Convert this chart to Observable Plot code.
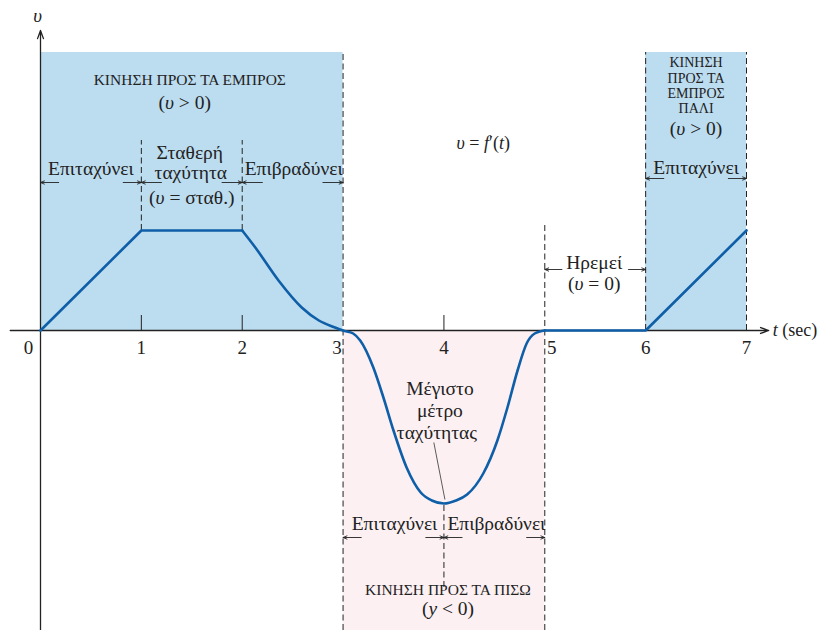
<!DOCTYPE html>
<html>
<head>
<meta charset="utf-8">
<script src="https://cdn.jsdelivr.net/npm/d3@7"></script>
<script src="https://cdn.jsdelivr.net/npm/@observablehq/plot@0.6"></script>
<style>
  body { margin: 0; background: #fff; }
  #chart svg { display: block; }
  #chart svg, #chart svg text { font-family: "Liberation Serif", "Times New Roman", serif !important; }
</style>
</head>
<body>
<div id="chart"></div>
<script>
// Velocity υ = f'(t) sampled along the motion (t in sec)
const times = [0, 1, 2, 2.13, 2.36, 2.59, 2.76, 2.92, 3,
  3.1, 3.17, 3.3, 3.4, 3.5, 3.63, 3.77, 3.88, 4, 4.12, 4.23, 4.39, 4.53, 4.63, 4.73, 4.82, 4.9, 5,
  6, 7];
const velocities = [0, 1, 1, 0.83, 0.5, 0.23, 0.1, 0.03, 0,
  -0.03, -0.1, -0.37, -0.67, -1.0, -1.37, -1.62, -1.70, -1.73, -1.70, -1.64, -1.43, -1.1, -0.77, -0.4, -0.13, -0.03, 0,
  0, 1];

// Phases of motion: forward (υ > 0) and backward (υ < 0)
const phaseStart = [0, 3, 6];
const phaseEnd = [3, 5, 7];
const phaseLow = [0, -3, 0];
const phaseHigh = [2.78, 0, 2.78];
const phaseKind = ["forward", "backward", "forward"];

// Dashed guide lines
const guideT = [1, 2, 3, 4, 5, 6, 7];
const guideTop = [1.9, 1.9, 2.78, -1.73, 1.05, 2.78, 2.78];
const guideBottom = [1, 1, -3, -2.57, -3, 0, 0];

// Time axis
const tickValues = [0, 1, 2, 3, 4, 5, 6, 7];
const tickLabels = ["0", "1", "2", "3", "4", "5", "6", "7"];
const tickMarks = [1, 2, 4];

// Interval arrows (from → to) at level υ
const arrowFrom = [0.18, 0.82, 1.2, 1.8, 2.2, 2.8, 5.17, 5.83, 6.18, 6.82, 3.18, 3.82, 4.18, 4.82];
const arrowTo   = [0,    1,    1,   2,   2,   3,   5,    6,    6,    7,    3,    4,    4,    5];
const arrowV    = [1.48, 1.48, 1.48, 1.48, 1.48, 1.48, 0.61, 0.61, 1.52, 1.52, -2.07, -2.07, -2.07, -2.07];

const samples = times.map((t, i) => ({t, v: velocities[i]}));
const linearPart = samples.map(d => ({...d, seg: d.t <= 2 ? "a" : "b"}))
  .filter(d => d.t <= 2 || d.t >= 5);
const smoothPart = samples.filter(d => d.t >= 2 && d.t <= 5);

const phases = phaseStart.map((s, i) => ({x1: s, x2: phaseEnd[i], y1: phaseLow[i], y2: phaseHigh[i], kind: phaseKind[i]}));
const guides = guideT.map((t, i) => ({t, y1: guideBottom[i], y2: guideTop[i]}));
const arrows = arrowFrom.map((f, i) => ({x1: f, x2: arrowTo[i], y: arrowV[i]}));
const ticks = tickValues.map((t, i) => ({t, label: tickLabels[i]}));

const big = 19.5, small = 15.5, stack = 14;
const labels = [
  {t: 1.48, v: 2.5, text: "ΚΙΝΗΣΗ ΠΡΟΣ ΤΑ ΕΜΠΡΟΣ", size: small},
  {t: 1.43, v: 2.28, text: "(υ > 0)", size: big},
  {t: 0.5, v: 1.62, text: "Επιταχύνει", size: big},
  {t: 1.48, v: 1.78, text: "Σταθερή", size: big},
  {t: 1.49, v: 1.58, text: "ταχύτητα", size: big},
  {t: 1.5, v: 1.33, text: "(υ = σταθ.)", size: big},
  {t: 2.51, v: 1.62, text: "Επιβραδύνει", size: big},
  {t: 4.39, v: 1.87, text: "υ = f′(t)", size: 18},
  {t: 6.5, v: 2.68, text: "ΚΙΝΗΣΗ", size: stack},
  {t: 6.5, v: 2.52, text: "ΠΡΟΣ ΤΑ", size: stack},
  {t: 6.5, v: 2.37, text: "ΕΜΠΡΟΣ", size: stack},
  {t: 6.5, v: 2.22, text: "ΠΑΛΙ", size: stack},
  {t: 6.5, v: 2.02, text: "(υ > 0)", size: big},
  {t: 6.5, v: 1.63, text: "Επιταχύνει", size: big},
  {t: 5.49, v: 0.68, text: "Ηρεμεί", size: big},
  {t: 5.49, v: 0.47, text: "(υ = 0)", size: big},
  {t: 3.96, v: -0.58, text: "Μέγιστο", size: big},
  {t: 3.96, v: -0.80, text: "μέτρο", size: big},
  {t: 3.93, v: -1.02, text: "ταχύτητας", size: big},
  {t: 3.51, v: -1.93, text: "Επιταχύνει", size: big},
  {t: 4.52, v: -1.93, text: "Επιβραδύνει", size: big},
  {t: 4.04, v: -2.6, text: "ΚΙΝΗΣΗ ΠΡΟΣ ΤΑ ΠΙΣΩ", size: small},
  {t: 4.04, v: -2.78, text: "(y < 0)", size: big}
];

const ink = "#222";
const curveColor = "#0e5ea8";
const serif = "Liberation Serif";

// tick labels, nudged away from the dashed guides
const tickText = (filter, dx) => Plot.text(ticks.filter(filter), {
  x: "t", y: 0, text: "label", dy: 17, dx, fontSize: 19, fill: ink, fontFamily: serif
});

const chart = Plot.plot({
  width: 822,
  height: 630,
  marginLeft: 40,
  marginRight: 76,
  marginTop: 30,
  marginBottom: 0,
  x: {domain: [0, 7], axis: null},
  y: {domain: [-3, 3], axis: null},
  style: {background: "#fff"},
  marks: [
    Plot.rect(phases, {x1: "x1", x2: "x2", y1: "y1", y2: "y2",
      fill: d => d.kind === "forward" ? "#bcdcef" : "#fcf0f3"}),
    Plot.ruleX(guides, {x: "t", y1: "y1", y2: "y2", stroke: ink, strokeWidth: 1, strokeDasharray: "6,3.5"}),
    // axes with arrowheads
    Plot.arrow([{x1: -0.3, x2: 7.22, y: 0}], {x1: "x1", x2: "x2", y1: "y", y2: "y",
      stroke: ink, strokeWidth: 1.3, headLength: 10, headAngle: 40}),
    Plot.arrow([{x: 0, y1: -3, y2: 3.0}], {x1: "x", x2: "x", y1: "y1", y2: "y2",
      stroke: ink, strokeWidth: 1.3, headLength: 10, headAngle: 40}),
    Plot.ruleX(tickMarks, {x: d => d, y1: 0, y2: 0.15, stroke: ink, strokeWidth: 1}),
    tickText(d => d.t === 0, -12),
    tickText(d => d.t === 3, -6),
    tickText(d => d.t === 5, 7),
    tickText(d => ![0, 3, 5].includes(d.t), 0),
    Plot.text(["t (sec)"], {x: 7.26, y: 0, text: d => d, textAnchor: "start", fontSize: 18, fill: ink, fontFamily: serif}),
    Plot.text(["υ"], {x: 0, y: 3.15, text: d => d, fontSize: 19, fill: ink, dx: -3, fontFamily: serif}),
    // velocity curve
    Plot.line(linearPart, {x: "t", y: "v", z: "seg", stroke: curveColor, strokeWidth: 2.6, strokeLinejoin: "miter"}),
    Plot.line(smoothPart, {x: "t", y: "v", curve: "monotone-x", stroke: curveColor, strokeWidth: 2.6}),
    // leader to the extreme point
    Plot.link([{x1: 3.9, y1: -1.12, x2: 4.01, y2: -1.69}], {x1: "x1", y1: "y1", x2: "x2", y2: "y2", stroke: "#333", strokeWidth: 0.8}),
    Plot.arrow(arrows, {x1: "x1", x2: "x2", y1: "y", y2: "y", stroke: ink, strokeWidth: 0.9, headLength: 7, headAngle: 45}),
    Plot.text(labels, {x: "t", y: "v", text: "text", fontSize: d => d.size, fill: ink, fontFamily: serif})
  ]
});

// Set the variable letters (υ, f, t, y) in italic
d3.select(chart).selectAll("text").each(function () {
  const el = this;
  if (el.children.length) return;
  const s = el.textContent;
  if (!/[υfty]/.test(s)) return;
  el.textContent = "";
  s.split(/([υfty])/).forEach(part => {
    if (!part) return;
    const span = document.createElementNS("http://www.w3.org/2000/svg", "tspan");
    span.textContent = part;
    if (/^[υfty]$/.test(part)) span.setAttribute("font-style", "italic");
    el.appendChild(span);
  });
});

document.getElementById("chart").appendChild(chart);
</script>
</body>
</html>
